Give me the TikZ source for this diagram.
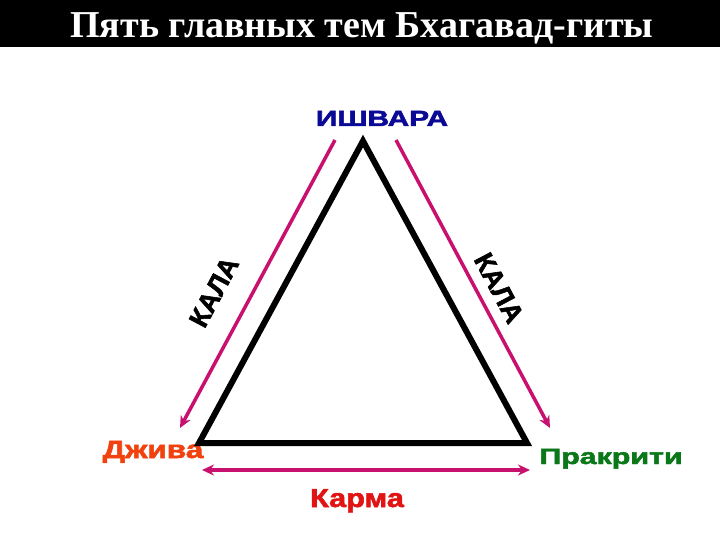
\documentclass[tikz,border=0pt]{standalone}
\usepackage{fontspec}
\setmainfont{Liberation Sans}
\newfontfamily\titlefont{Liberation Serif}
\newfontfamily\heavyfont[FakeBold=2]{Liberation Sans}
\usetikzlibrary{arrows.meta}
\definecolor{K1}{RGB}{200,16,110}
\definecolor{B1}{RGB}{10,10,150}
\definecolor{O1}{RGB}{240,65,15}
\definecolor{G1}{RGB}{10,120,25}
\definecolor{R1}{RGB}{225,20,20}
\begin{document}
\begin{tikzpicture}[x=1pt,y=-1pt,
    lbl/.style={font=\heavyfont\bfseries\fontsize{#1}{#1}\selectfont, inner sep=0pt, anchor=base},
    kalaarrow/.style={-{Stealth[length=12pt,width=11pt]}, line width=3.5pt, K1},
    kalatext/.style={font=\heavyfont\bfseries\fontsize{27}{27}\selectfont, inner sep=0pt}]
  \useasboundingbox (0,0) rectangle (720,540);
  \fill[black] (0,0) rectangle (720,47);
  \node[white, font=\titlefont\bfseries\fontsize{38}{38}\selectfont, inner sep=0pt, anchor=base] (title) at (362,38) {Пять главных тем Бхагавад-гиты};
  \node[lbl=22, B1, xscale=1.36] (isvara) at (382,126) {ИШВАРА};
  \node[lbl=25, O1, xscale=1.26] (jiva) at (153,458) {Джива};
  \node[lbl=22, G1, xscale=1.38] (prakriti) at (611,464) {Пракрити};
  \node[lbl=26, R1, xscale=1.18] (karma) at (357,507) {Карма};
  \node[kalatext, rotate=62] (kalaL) at (214,292) {КАЛА};
  \node[kalatext, rotate=-62] (kalaR) at (499,288) {КАЛА};
  \coordinate (top) at (363,141);
  \coordinate (bl) at (199,443);
  \coordinate (br) at (527,443);
  \draw[line width=6pt, line join=miter] (top) -- (bl) -- (br) -- cycle;
  \coordinate (lstart) at (335,140);
  \coordinate (lend) at (180,428);
  \coordinate (rstart) at (396,140);
  \coordinate (rend) at (550,428);
  \coordinate (kstart) at (202,470);
  \coordinate (kend) at (530,470);
  \draw[kalaarrow] (lstart) -- (lend);
  \draw[kalaarrow] (rstart) -- (rend);
  \draw[kalaarrow, {Stealth[length=12pt,width=11pt]}-{Stealth[length=12pt,width=11pt]}] (kstart) -- (kend);
\end{tikzpicture}
\end{document}
